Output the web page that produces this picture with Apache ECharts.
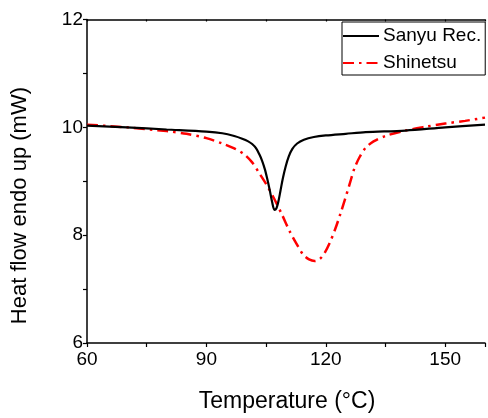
<!DOCTYPE html>
<html>
<head>
<meta charset="utf-8">
<script src="https://cdn.jsdelivr.net/npm/echarts@6/dist/echarts.min.js"></script>
<style>
html,body{margin:0;padding:0;background:#fff;}
#chart{width:488px;height:418px;}
</style>
</head>
<body>
<div id="chart"></div>
<script>
var seriesNames = ['Sanyu Rec.', 'Shinetsu'];
var sanyuTemp = [60, 70, 80, 90, 94, 97, 99, 100.5, 101.5, 102.5, 103.3, 104, 104.7, 105.3, 105.9, 106.5, 107.1, 107.6, 108.1, 108.6, 109.2, 109.9, 110.7, 111.6, 112.8, 114.5, 117, 120, 125, 130, 140, 150, 160];
var sanyuHeat = [10.03, 10.00, 9.96, 9.92, 9.89, 9.84, 9.79, 9.74, 9.69, 9.61, 9.50, 9.38, 9.22, 9.04, 8.84, 8.62, 8.47, 8.50, 8.63, 8.82, 9.05, 9.27, 9.46, 9.60, 9.70, 9.77, 9.82, 9.85, 9.88, 9.91, 9.94, 10.00, 10.05];
var shinTemp = [60, 70, 80, 85, 90, 94, 97, 99.5, 101.5, 103.2, 105, 107, 109, 111, 112.8, 114.3, 115.8, 117.2, 118.5, 119.7, 121, 122.3, 123.6, 124.8, 126, 127.2, 128.5, 130, 132, 135, 140, 145, 150, 155, 160];
var shinHeat = [10.05, 10.00, 9.93, 9.88, 9.80, 9.70, 9.61, 9.50, 9.35, 9.16, 8.95, 8.68, 8.38, 8.06, 7.82, 7.64, 7.55, 7.52, 7.56, 7.67, 7.86, 8.10, 8.38, 8.66, 8.95, 9.24, 9.45, 9.62, 9.74, 9.84, 9.94, 10.01, 10.07, 10.12, 10.18];
var xTicks = [60, 90, 120, 150];
var yTicks = [6, 8, 10, 12];

function pairs(xs, ys) { return xs.map(function (x, i) { return [x, ys[i]]; }); }

var FONT = '"Liberation Sans", Arial, sans-serif';
var chart = echarts.init(document.getElementById('chart'), null, {renderer: 'canvas'});
chart.setOption({
  animation: false,
  backgroundColor: '#fff',
  grid: {left: 87, right: 0, top: 19.5, bottom: 73, containLabel: false},
  legend: {
    orient: 'vertical', left: 342, top: 22,
    data: seriesNames,
    itemWidth: 36, itemHeight: 14, itemGap: 5,
    padding: [3, 4, 1, 0],
    borderColor: '#000', borderWidth: 1,
    itemStyle: {opacity: 0},
    textStyle: {fontFamily: FONT, fontSize: 19, color: '#000', lineHeight: 22, padding: [0, 0, 0, -1]}
  },
  xAxis: [{
    type: 'value', min: 60, max: 160, interval: 15,
    name: 'Temperature (°C)', nameLocation: 'middle', nameGap: 47,
    nameTextStyle: {fontFamily: FONT, fontSize: 23, color: '#000', padding: [0, 0, 0, 2]},
    axisLine: {lineStyle: {color: '#000', width: 1.5}},
    axisTick: {inside: false, length: 4, lineStyle: {color: '#000', width: 1.2}},
    axisLabel: {fontFamily: FONT, fontSize: 19, color: '#000', margin: 7,
      formatter: function (v) { return xTicks.indexOf(v) >= 0 ? String(v) : ''; }},
    splitLine: {show: false}
  }, {
    type: 'value', position: 'top', min: 60, max: 160, interval: 15,
    axisLine: {lineStyle: {color: '#000', width: 1.5}},
    axisTick: {inside: true, length: 2, lineStyle: {color: '#000', width: 1.2}},
    axisLabel: {show: false}, splitLine: {show: false}
  }],
  yAxis: {
    type: 'value', min: 6, max: 12, interval: 1,
    axisLine: {show: true, lineStyle: {color: '#000', width: 1.5}},
    axisTick: {show: true, inside: false, length: 4, lineStyle: {color: '#000', width: 1.2}},
    axisLabel: {fontFamily: FONT, fontSize: 19, color: '#000', margin: 4,
      formatter: function (v) { return yTicks.indexOf(v) >= 0 ? String(v) : ''; }},
    splitLine: {show: false}
  },
  graphic: [{
    type: 'text', left: 9, top: 87, rotation: Math.PI / 2,
    style: {text: 'Heat flow endo up (mW)', fontFamily: FONT, fontSize: 22, fill: '#000'},
    origin: [0, 0]
  }],
  series: [{
    name: seriesNames[0], type: 'line', symbol: 'none', smooth: 0.3,
    data: pairs(sanyuTemp, sanyuHeat),
    lineStyle: {color: '#000', width: 2.2, type: 'solid'},
    itemStyle: {color: '#000'}, z: 3
  }, {
    name: seriesNames[1], type: 'line', symbol: 'none', smooth: 0.3,
    data: pairs(shinTemp, shinHeat),
    lineStyle: {color: '#ff0000', width: 2.5, type: [11, 5, 2.5, 5]},
    itemStyle: {color: '#ff0000'}, z: 2
  }]
});
</script>
</body>
</html>
